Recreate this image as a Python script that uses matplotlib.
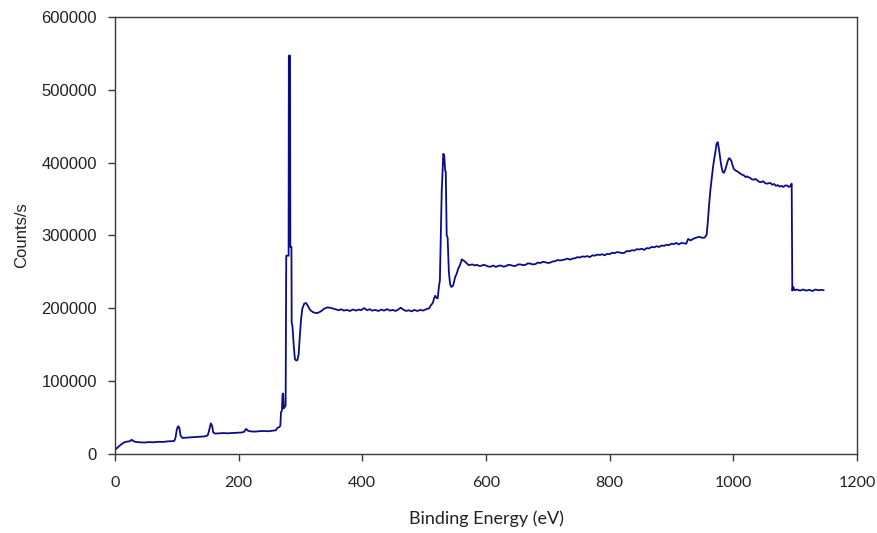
import matplotlib
matplotlib.use("Agg")
import matplotlib.pyplot as plt
from matplotlib.ticker import FuncFormatter

# survey spectrum as (binding energy eV, counts/s) pairs, split by region

# valence band up to the C 1s onset
low_region = [
    (0, 5000), (5, 9000), (10, 12500), (15, 15500), (20, 16500), (24, 17000),
    (27, 19000), (30, 17000), (34, 16000), (40, 15500), (48, 15200),
    (55, 15800), (62, 15500), (70, 16200), (78, 16000), (85, 16800),
    (92, 17000), (96, 17500), (98, 22000), (100, 33000), (102, 37500),
    (104, 36000), (106, 25000), (109, 21500), (115, 21800), (122, 22300),
    (130, 22800), (138, 23200), (145, 23600), (150, 25000), (152, 31000),
    (154, 38000), (155, 41500), (157, 38500), (159, 29000), (162, 27500),
    (168, 27800), (175, 28200), (182, 27900), (190, 28300), (198, 28600),
    (205, 29000), (209, 30000), (212, 34000), (215, 31500), (219, 30500),
    (226, 30200), (234, 30800), (241, 31000), (248, 30700), (255, 31400),
    (260, 32000), (263, 35500), (266, 36500), (267.5, 38500),
]

# C 1s peak and its loss structure
c1s_region = [
    (268.5, 57000), (270, 59000), (271, 81000), (272, 82500), (273, 62000),
    (274.5, 64000), (276, 66000), (277, 272000), (279, 272000),
    (280.8, 272000), (281.2, 547000), (283.2, 547000), (283.6, 284000),
    (285.4, 284000), (285.8, 180000), (287, 176000), (289, 150000),
    (291, 130000), (293, 128000), (295, 128500), (297, 136000),
    (299, 162000), (301, 185000), (303, 199000), (306, 206000),
    (309, 207000), (312, 203000), (316, 197000), (321, 194000),
    (327, 193000), (333, 195500), (338, 199000), (344, 201000),
    (350, 200000), (356, 198500),
]

# flat background before O 1s
mid_region = [
    (362, 197000), (366, 198500), (370, 196500), (375, 197500),
    (380, 196000), (385, 198000), (390, 196500), (394, 198000),
    (398, 197000), (403, 200000), (408, 197000), (412, 198500),
    (416, 196500), (421, 197500), (426, 196000), (431, 198000),
    (435, 196500), (440, 198500), (445, 196500), (449, 197500),
    (454, 196000), (458, 198000), (462, 200500), (467, 197500),
    (471, 196000), (475, 197000), (480, 195500), (484, 197500),
    (489, 196000), (494, 197500), (498, 196500), (502, 198000),
    (505, 199000), (508, 199500),
]

# O 1s peak
o1s_region = [
    (511, 204000), (514, 207000), (516, 213000), (518, 217000),
    (520, 214000), (522, 213500), (524, 230000), (525.5, 238000),
    (527, 300000), (528.5, 362000), (529.5, 380000), (531, 412000),
    (532.5, 410000), (534, 389000), (535, 388000), (536.5, 300000),
    (538, 297000), (540, 250000), (542, 233000), (544, 229000),
    (547, 231000), (550, 242000), (553, 248000), (555, 254000),
    (558, 259000), (561, 267000), (566, 264000), (572, 259000),
]

# slowly rising background up to the Auger edge
high_region = [
    (578, 260000), (582, 258500), (585, 259500), (589, 258000),
    (592, 258000), (596, 259500), (600, 258500), (604, 257000),
    (608, 257000), (612, 258500), (616, 256500), (620, 258000),
    (624, 258500), (628, 257000), (632, 257500), (636, 259500),
    (640, 259000), (644, 258000), (648, 258000), (652, 260000),
    (656, 260000), (660, 259000), (664, 259500), (668, 261500),
    (672, 261000), (676, 260000), (680, 260500), (684, 262500),
    (688, 262000), (692, 263500), (696, 263000), (700, 262000),
    (704, 262500), (708, 264000), (712, 264500), (716, 266000),
    (720, 265500), (724, 266000), (728, 267000), (732, 268000),
    (736, 266500), (740, 268000), (744, 268500), (748, 270000),
    (752, 269500), (756, 271000), (760, 270500), (764, 271500),
    (768, 270000), (772, 272500), (776, 272000), (780, 273500),
    (784, 273000), (788, 274000), (792, 272500), (796, 274500),
    (800, 274000), (804, 276000), (808, 275500), (812, 277000),
    (816, 276500), (820, 275500), (824, 276000), (828, 278500),
    (832, 278000), (836, 279500), (840, 279000), (844, 281000),
    (848, 280500), (852, 281500), (856, 280000), (860, 282500),
    (864, 282000), (868, 284000), (872, 283500), (876, 285000),
    (880, 284000), (884, 286000), (888, 285500), (892, 287000),
    (896, 286500), (900, 288500), (904, 288000), (908, 289500),
    (912, 287500), (916, 289500), (920, 289000), (924, 288500),
    (927, 295000), (931, 293000), (936, 295500), (941, 297000),
    (945, 298000), (950, 296500), (954, 297000), (957, 301000),
]

# O KLL Auger structure and cut-off
auger_region = [
    (959, 320000), (961, 343000), (963, 362000), (965, 377000),
    (967, 392000), (969, 404000), (971, 414000), (973, 426000),
    (975, 428000), (977, 418000), (979, 405000), (981, 394000),
    (983, 387000), (985, 386000), (987, 390000), (989, 396000),
    (991, 402000), (993, 406000), (995, 405000), (997, 402000),
    (999, 396000), (1001, 391000), (1004, 389000), (1008, 387000),
    (1012, 384500), (1015, 383000), (1017, 382500), (1020, 380000),
    (1022, 381000), (1027, 379000), (1030, 377000), (1033, 376500),
    (1036, 377500), (1039, 375500), (1042, 373500), (1045, 373000),
    (1048, 374500), (1051, 372000), (1054, 371000), (1057, 371500),
    (1060, 372000), (1063, 369500), (1066, 370500), (1069, 368000),
    (1072, 369000), (1075, 367000), (1078, 368000), (1081, 366500),
    (1084, 368500), (1087, 368500), (1090, 366500), (1092, 367500),
    (1094.5, 371000),
    (1095.5, 224000), (1097, 229000), (1099, 224500), (1103, 225500),
    (1108, 224000), (1113, 225500), (1118, 224000), (1123, 225000),
    (1128, 223500), (1133, 225500), (1138, 224500), (1142, 225000),
    (1146, 224500),
]

xticks = [0, 200, 400, 600, 800, 1000, 1200]
yticks = [0, 100000, 200000, 300000, 400000, 500000, 600000]

spectrum = low_region + c1s_region + mid_region + o1s_region + high_region + auger_region
be = [p[0] for p in spectrum]
counts = [p[1] for p in spectrum]

fig = plt.figure(figsize=(8.77, 5.33), dpi=100)
ax = fig.add_axes([0.1311, 0.149, 0.8460, 0.819])

ax.plot(be, counts, color="#0c0c88", linewidth=1.3)

ax.set_xlim(0, 1200)
ax.set_ylim(0, 600000)
ax.set_xticks(xticks)
ax.set_yticks(yticks)
ax.yaxis.set_major_formatter(FuncFormatter(lambda v, p: f"{int(v)}"))

for sp in ax.spines.values():
    sp.set_color("#3a3a3a")
    sp.set_linewidth(1.0)

ax.tick_params(axis="both", direction="out", length=5, width=1.0,
               color="#3a3a3a")
ax.tick_params(axis="y", pad=8)
ax.tick_params(axis="x", pad=11)

for lab in ax.get_yticklabels():
    lab.set_fontfamily("Liberation Sans")
    lab.set_fontsize(12)
    lab.set_color("#222222")
for lab in ax.get_xticklabels():
    lab.set_fontfamily("Lato")
    lab.set_fontsize(11.5)
    lab.set_color("#222222")

ax.set_xlabel("Binding Energy (eV)", fontfamily="Lato", fontsize=13,
              color="#222222", labelpad=15)
ax.set_ylabel("Counts/s", fontfamily="Liberation Sans", fontsize=12,
              color="#222222", labelpad=9)

fig.savefig("out.png", dpi=100)
